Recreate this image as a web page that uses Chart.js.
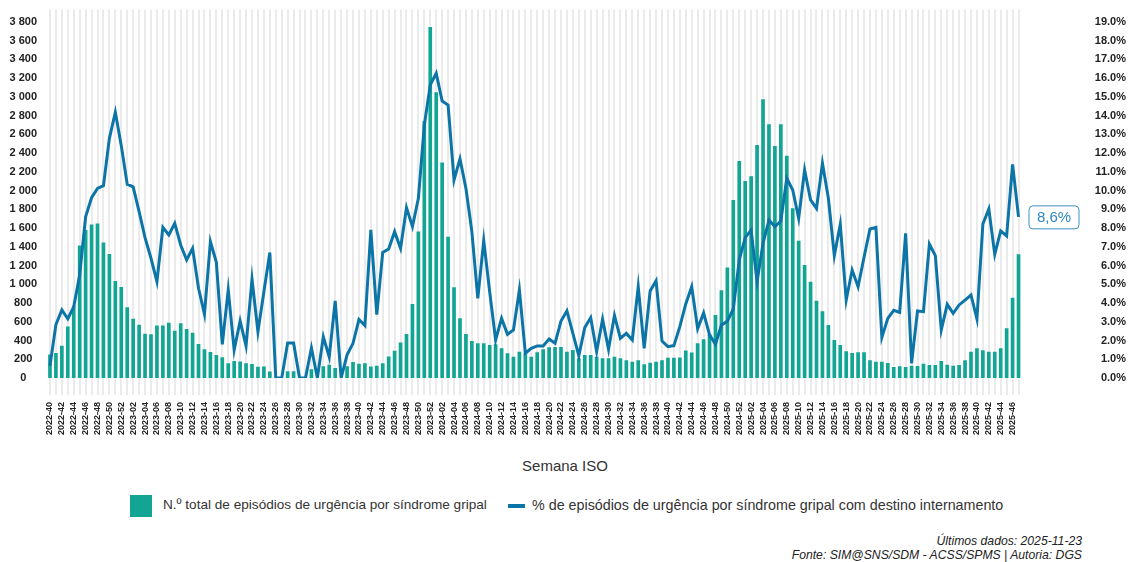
<!DOCTYPE html>
<html>
<head>
<meta charset="utf-8">
<script src="https://cdn.jsdelivr.net/npm/chart.js@4.4.1/dist/chart.umd.min.js"></script>
<style>
  body { margin: 0; background: #fff; font-family: 'Liberation Sans', Arial, sans-serif; }
  #wrap { position: relative; width: 1130px; height: 562px; overflow: hidden; }
  #box { position: absolute; left: 0; top: 0; width: 1130px; height: 452px; }
  .xtitle { position: absolute; top: 457px; left: 0; width: 1130px; text-align: center; font-size: 15px; color: #333; }
  .sq { position: absolute; left: 130px; top: 495px; width: 22px; height: 22px; background: #13a594; }
  .ln { position: absolute; left: 508px; top: 504px; width: 17px; height: 4px; background: #0c75a8; }
  .lt { position: absolute; top: 497px; font-size: 14.3px; color: #333; }
  .foot { position: absolute; right: 48px; font-size: 12.2px; font-style: italic; color: #222; }
</style>
</head>
<body>
<div id="wrap">
  <div id="box"><canvas id="chart"></canvas></div>
  <div class="xtitle">Semana ISO</div>
  <div class="sq"></div>
  <div class="lt" style="left:163px; font-size:13.6px">N.º total de episódios de urgência por síndrome gripal</div>
  <div class="ln"></div>
  <div class="lt" style="left:532px">% de episódios de urgência por síndrome gripal com destino internamento</div>
  <div class="foot" style="top:534px">Últimos dados: 2025-11-23</div>
  <div class="foot" style="top:548px">Fonte: SIM@SNS/SDM - ACSS/SPMS | Autoria: DGS</div>
</div>
<script>
// ISO weeks 2022-40 .. 2025-47
const yearWeeks = [[2022, 40, 52], [2023, 1, 52], [2024, 1, 52], [2025, 1, 47]];
const weeks = [];
yearWeeks.forEach(([y, a, b]) => {
  for (let w = a; w <= b; w++) weeks.push(y + '-' + String(w).padStart(2, '0'));
});

// N.º total de episódios de urgência por síndrome gripal
const episodes = [
  250, 268, 343, 550, 771, 1414, 1580, 1637, 1648, 1445,
  1324, 1036, 970, 754, 632, 568, 472, 467, 559, 559,
  591, 504, 584, 522, 484, 363, 306, 278, 246, 221,
  157, 182, 176, 157, 150, 121, 123, 70, 0, 0,
  71, 71, 0, 0, 93, 0, 125, 142, 107, 0,
  125, 171, 153, 158, 123, 132, 158, 230, 290, 378,
  470, 790, 1563, 2740, 3745, 3050, 2300, 1508, 968, 637,
  470, 395, 370, 370, 352, 359, 317, 263, 228, 281,
  263, 228, 274, 306, 327, 331, 331, 281, 299, 210,
  245, 245, 228, 210, 210, 228, 210, 189, 174, 189,
  146, 164, 174, 189, 217, 217, 220, 293, 272, 370,
  414, 470, 672, 937, 1180, 1900, 2316, 2103, 2153, 2487,
  2975, 2708, 2476, 2708, 2373, 1811, 1466, 1206, 1028, 825,
  712, 566, 406, 352, 285, 267, 274, 274, 189, 174,
  174, 160, 117, 125, 117, 132, 128, 153, 139, 139,
  181, 142, 132, 139, 189, 281, 317, 295, 281, 281,
  317, 530, 857, 1320
];

// % de episódios com destino internamento
const pctInternamento = [
  0.65, 2.85, 3.63, 3.16, 3.8, 5.5, 8.6, 9.62, 10.12, 10.26,
  12.79, 14.18, 12.4, 10.34, 10.2, 8.88, 7.49, 6.39, 5.14, 8.04,
  7.63, 8.25, 7.1, 6.3, 6.92, 4.79, 3.4, 7.28, 6.17, 1.8,
  4.7, 1.49, 3.04, 1.71, 5.27, 2.47, 4.6, 6.7, 0, 0,
  1.87, 1.87, 0, 0, 1.6, 0, 2.2, 1.12, 4.12, 0,
  1.24, 1.85, 3.12, 2.8, 7.9, 3.38, 6.7, 6.88, 7.81, 6.92,
  9.09, 8.08, 9.59, 13.5, 15.64, 16.26, 14.78, 14.57, 10.57, 11.69,
  10.12, 7.81, 4.25, 7.33, 4.6, 2.03, 3.18, 2.33, 2.56, 4.7,
  1.32, 1.58, 1.71, 1.71, 2.08, 1.85, 3.04, 3.58, 2.38, 1.19,
  2.69, 3.22, 1.41, 3.13, 1.53, 3.33, 2.12, 2.38, 2.03, 4.87,
  1.58, 4.64, 5.19, 1.97, 1.67, 1.73, 2.74, 3.95, 4.87, 2.63,
  3.47, 2.3, 1.8, 2.83, 3.02, 3.69, 6.3, 7.49, 7.9, 5.14,
  7.19, 8.43, 8.08, 8.38, 10.66, 10.03, 8.52, 11.1, 9.5, 9.05,
  11.46, 9.59, 6.53, 8.2, 4.16, 5.76, 4.87, 6.44, 7.95, 8.04,
  2.17, 3.18, 3.61, 3.5, 7.72, 0.78, 3.58, 3.54, 7.15, 6.53,
  2.56, 3.93, 3.45, 3.9, 4.16, 4.43, 3.15, 8.22, 9.02, 6.6,
  7.85, 7.58, 11.4, 8.6
];

const countTicks = [0, 200, 400, 600, 800, 1000, 1200, 1400, 1600, 1800, 2000,
  2200, 2400, 2600, 2800, 3000, 3200, 3400, 3600, 3800];
const pctTicks = [0, 1, 2, 3, 4, 5, 6, 7, 8, 9, 10, 11, 12, 13, 14, 15, 16, 17, 18, 19];

const TEAL = '#13a594';
const BLUE = '#0c75a8';
const tickFont = { family: "'Liberation Sans', Arial, sans-serif", size: 11, weight: 'bold' };

function fmtCount(v) {
  if (v >= 1000) return Math.floor(v / 1000) + ' ' + String(v % 1000).padStart(3, '0');
  return String(v);
}

function noPad(s) {
  s.paddingTop = 0; s.paddingBottom = 0; s.paddingLeft = 0; s.paddingRight = 0;
}

// value box next to the last point of the line
const lastLabel = {
  id: 'lastLabel',
  afterDatasetsDraw(chart) {
    const { ctx, chartArea, scales } = chart;
    const v = pctInternamento[pctInternamento.length - 1];
    const y = scales.y1.getPixelForValue(v);
    const x = chartArea.right + 7;
    const w = 50, h = 23;
    ctx.save();
    ctx.beginPath();
    ctx.roundRect(x + 0.5, y - h / 2 + 0.5, w, h, 4);
    ctx.fillStyle = '#fff';
    ctx.fill();
    ctx.strokeStyle = '#3d8fc2';
    ctx.lineWidth = 1;
    ctx.stroke();
    ctx.fillStyle = '#2c86bf';
    ctx.font = "15px 'Liberation Sans', Arial, sans-serif";
    ctx.textAlign = 'center';
    ctx.textBaseline = 'middle';
    ctx.fillText(v.toFixed(1).replace('.', ',') + '%', x + w / 2 + 0.5, y + 1);
    ctx.restore();
  }
};

new Chart(document.getElementById('chart'), {
  type: 'bar',
  data: {
    labels: weeks,
    datasets: [
      {
        type: 'line',
        label: '% de episódios de urgência por síndrome gripal com destino internamento',
        data: pctInternamento,
        yAxisID: 'y1',
        borderColor: BLUE,
        borderWidth: 3,
        pointRadius: 0,
        tension: 0,
        order: 0
      },
      {
        label: 'N.º total de episódios de urgência por síndrome gripal',
        data: episodes,
        yAxisID: 'y',
        backgroundColor: TEAL,
        barPercentage: 0.62,
        categoryPercentage: 1,
        order: 1
      }
    ]
  },
  options: {
    responsive: true,
    maintainAspectRatio: false,
    animation: false,
    layout: { padding: { top: 9.5, right: 4, bottom: 12, left: 0 } },
    plugins: { legend: { display: false }, tooltip: { enabled: false } },
    scales: {
      x: {
        grid: { color: '#ebebeb', lineWidth: 2, offset: false, tickLength: 17, tickColor: '#ebebeb' },
        border: { display: false },
        ticks: {
          autoSkip: false, minRotation: 90, maxRotation: 90, padding: 7, color: '#222',
          font: { family: "'Liberation Sans', Arial, sans-serif", size: 9, weight: 'bold' },
          callback: (v, i) => (i % 2 === 0 ? weeks[i] : '')
        },
        afterFit: s => { s.height = 62; noPad(s); }
      },
      y: {
        position: 'left',
        min: 0, max: 3933,
        grid: { display: false, drawTicks: false },
        border: { display: false },
        afterBuildTicks: s => { s.ticks = countTicks.map(v => ({ value: v })); },
        ticks: { crossAlign: 'center', padding: 10, color: '#222', font: tickFont, callback: v => fmtCount(v) },
        afterFit: s => { s.width = 47; noPad(s); }
      },
      y1: {
        position: 'right',
        min: 0, max: 3933 / 200,
        grid: { display: false, drawTicks: false },
        border: { display: false },
        afterBuildTicks: s => { s.ticks = pctTicks.map(v => ({ value: v })); },
        ticks: { crossAlign: 'far', color: '#222', font: tickFont, callback: v => v.toFixed(1) + '%' },
        afterFit: s => { s.width = 104.5; noPad(s); }
      }
    }
  },
  plugins: [lastLabel]
});
</script>
</body>
</html>
